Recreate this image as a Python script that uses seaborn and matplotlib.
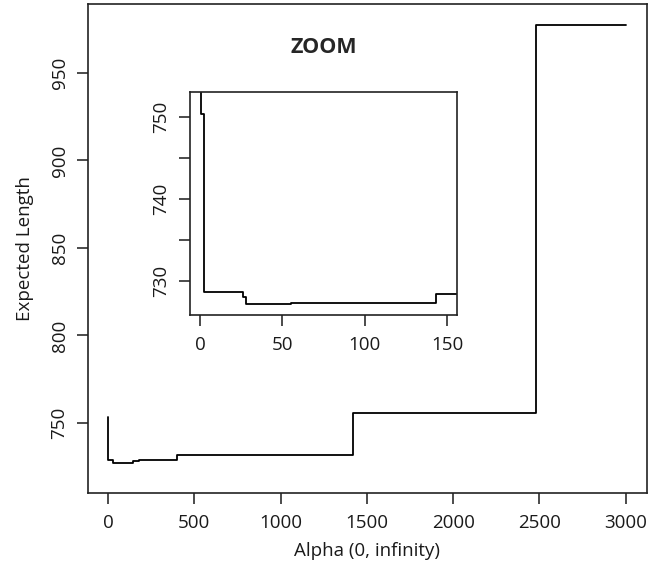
import numpy as np
import pandas as pd
import matplotlib
matplotlib.use("Agg")
import matplotlib.pyplot as plt
import seaborn as sns

# Schrittfunktion: erwartete Laenge je Alpha
alpha = [0, 0.5, 2.5, 26, 28, 55, 143, 180, 402, 1418, 2480, 3000]
expected_length = [753.6, 750.4, 728.7, 728.1, 727.3, 727.4, 728.5, 728.8, 731.6, 755.5, 977.4, 977.4]

x_ticks_main = [0, 500, 1000, 1500, 2000, 2500, 3000]
y_ticks_main = [750, 800, 850, 900, 950]
x_ticks_zoom = [0, 50, 100, 150]
y_ticks_zoom = [730, 735, 740, 745, 750]
y_labels_zoom = ["730", "", "740", "", "750"]

df = pd.DataFrame({"alpha": alpha, "length": expected_length})

sns.set_style("ticks")
plt.rcParams["font.family"] = ["Open Sans", "DejaVu Sans"]
plt.rcParams["axes.linewidth"] = 1.2
plt.rcParams["xtick.major.size"] = 8
plt.rcParams["ytick.major.size"] = 8
plt.rcParams["xtick.major.width"] = 1.1
plt.rcParams["ytick.major.width"] = 1.1
plt.rcParams["xtick.major.pad"] = 7
plt.rcParams["ytick.major.pad"] = 6

fs = 13.5

fig = plt.figure(figsize=(6.52, 5.61), dpi=100)
ax = fig.add_axes([0.135, 0.1212, 0.8573, 0.8717])

sns.lineplot(data=df, x="alpha", y="length", ax=ax, color="black", lw=1.3,
             drawstyle="steps-post", estimator=None, sort=False)
ax.set_xlim(-116, 3123)
ax.set_ylim(710, 989.4)
ax.set_xticks(x_ticks_main)
ax.set_yticks(y_ticks_main)
ax.tick_params(labelsize=fs, colors="#1a1a1a")
for lab in ax.get_yticklabels():
    lab.set_rotation(90)
    lab.set_va("center")
ax.set_xlabel("Alpha (0, infinity)", fontsize=fs, labelpad=7, color="#1a1a1a")
ax.set_ylabel("Expected Length", fontsize=fs, labelpad=12, color="#1a1a1a")
for s in ax.spines.values():
    s.set_visible(True)
    s.set_color("#222222")

# Ausschnitt (Zoom)
axz = fig.add_axes([0.2914, 0.4385, 0.4096, 0.3981])
sns.lineplot(data=df, x="alpha", y="length", ax=axz, color="black", lw=1.3,
             drawstyle="steps-post", estimator=None, sort=False)
axz.set_xlim(-6.06, 155.9)
axz.set_ylim(725.9, 753.1)
axz.set_xticks(x_ticks_zoom)
axz.set_yticks(y_ticks_zoom)
axz.set_yticklabels(y_labels_zoom)
axz.tick_params(labelsize=fs, colors="#1a1a1a")
for lab in axz.get_yticklabels():
    lab.set_rotation(90)
    lab.set_va("center")
axz.set_xlabel("")
axz.set_ylabel("")
for s in axz.spines.values():
    s.set_visible(True)
    s.set_color("#222222")

fig.text(0.497, 0.916, "ZOOM", fontsize=15.5, fontweight="bold", ha="center", va="center")

fig.savefig("out.png", dpi=100)
